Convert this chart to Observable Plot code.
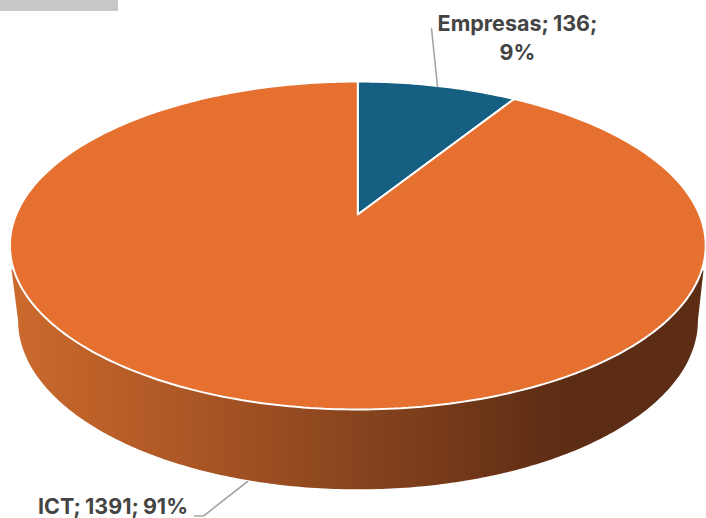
<!DOCTYPE html>
<html>
<head>
<meta charset="utf-8">
<script src="https://cdn.jsdelivr.net/npm/d3@7"></script>
<script src="https://cdn.jsdelivr.net/npm/@observablehq/plot@0.6"></script>
<style>
  html, body { margin: 0; padding: 0; background: #fff; }
  svg { display: block; }
</style>
</head>
<body>
<div id="chart"></div>
<script>
// Data
const categories = ["Empresas", "ICT"];
const values = [136, 1391];
const percents = ["9%", "91%"];
const colors = ["#156082", "#E6702F"];

const FONT = "Inter, sans-serif";
const WIDTH = 706, HEIGHT = 518;

// Perspective model of the pie's top and base discs (pixels)
const top_ = {cx: 357.3, cy: 214, a: 341.6, b: 158.1, k: 0.189};
const base = {cx: 357.5, cy: 288, a: 333.8, b: 162.9, k: 0.189};
const project = (disc, theta, r = 1) => {
  const u = r * Math.sin(theta), v = r * Math.cos(theta), d = 1 + disc.k * v;
  return {x: disc.cx + disc.a * u / d, y: disc.cy - disc.b * v / d};
};

// Slices: angles come from the values
const total = d3.sum(values);
let acc = 0;
const slices = [];
values.forEach((value, i) => {
  const start = acc / total * 2 * Math.PI;
  acc += value;
  const end = acc / total * 2 * Math.PI;
  const n = Math.max(4, Math.ceil((end - start) * 60));
  const pts = [project(top_, 0, 0)];
  for (let j = 0; j <= n; j++) pts.push(project(top_, start + (end - start) * j / n));
  pts.push(project(top_, 0, 0));
  pts.forEach(p => slices.push({...p, name: categories[i]}));
});

// Side wall: lower half of the base disc joined to the rim of the top disc
const wall = [{x: 703, y: 270}];
for (let j = 0; j <= 240; j++) {
  const t = 1.76 + (2 * Math.PI - 2 * 1.76) * j / 240; // right extreme -> bottom -> left extreme
  wall.push(project(base, t));
}
wall.push({x: 11, y: 269});

// Labels and leader lines
const labels = [
  {text: `${categories[0]}; ${values[0]};`, x: 517, y: 24},
  {text: percents[0], x: 517, y: 53},
  {text: `${categories[1]}; ${values[1]}; ${percents[1]}`, x: 112.5, y: 506.5}
];
const leaders = [
  [{x: 437, y: 86}, {x: 431, y: 28}],
  [{x: 247, y: 481}, {x: 203, y: 515.5}, {x: 194, y: 515.5}]
].flatMap((line, i) => line.map(p => ({...p, line: i})));
const header = [{x1: 0, x2: 118, y1: 0, y2: 11}];

const gradient = () => {
  const s = d3.create("svg:defs");
  const g = s.append("linearGradient").attr("id", "wallGrad")
    .attr("gradientUnits", "userSpaceOnUse")
    .attr("x1", 11).attr("x2", 703).attr("y1", 0).attr("y2", 0);
  [[0, "#CC6A2D"], [0.25, "#AC5725"], [0.5, "#88441E"], [0.8, "#5C2C14"], [1, "#5C2C14"]]
    .forEach(([o, c]) => g.append("stop").attr("offset", o).attr("stop-color", c));
  return s.node();
};

const chart = Plot.plot({
  width: WIDTH, height: HEIGHT,
  margin: 0,
  x: {domain: [0, WIDTH], range: [0, WIDTH], axis: null},
  y: {domain: [0, HEIGHT], range: [0, HEIGHT], axis: null},
  style: {background: "#fff"},
  marks: [
    gradient,
    Plot.rect(header, {x1: "x1", x2: "x2", y1: "y1", y2: "y2", fill: "#C8C8C8"}),
    Plot.line(wall, {x: "x", y: "y", fill: "url(#wallGrad)", stroke: null, curve: "linear"}),
    Plot.line(slices, {x: "x", y: "y", z: "name",
      fill: d => colors[categories.indexOf(d.name)],
      stroke: "#fff", strokeWidth: 2, strokeLinejoin: "miter", curve: "linear"}),
    Plot.line(leaders, {x: "x", y: "y", z: "line", stroke: "#A6A6A6", strokeWidth: 1.6, curve: "linear"}),
    Plot.text(labels, {x: "x", y: "y", text: "text", fontFamily: FONT, fontWeight: 700,
      fontSize: 21.5, fill: "#444444", textAnchor: "middle", lineAnchor: "middle"})
  ]
});
chart.querySelectorAll("text").forEach(t => t.style.wordSpacing = "-1px");
document.getElementById("chart").appendChild(chart);
</script>
</body>
</html>
